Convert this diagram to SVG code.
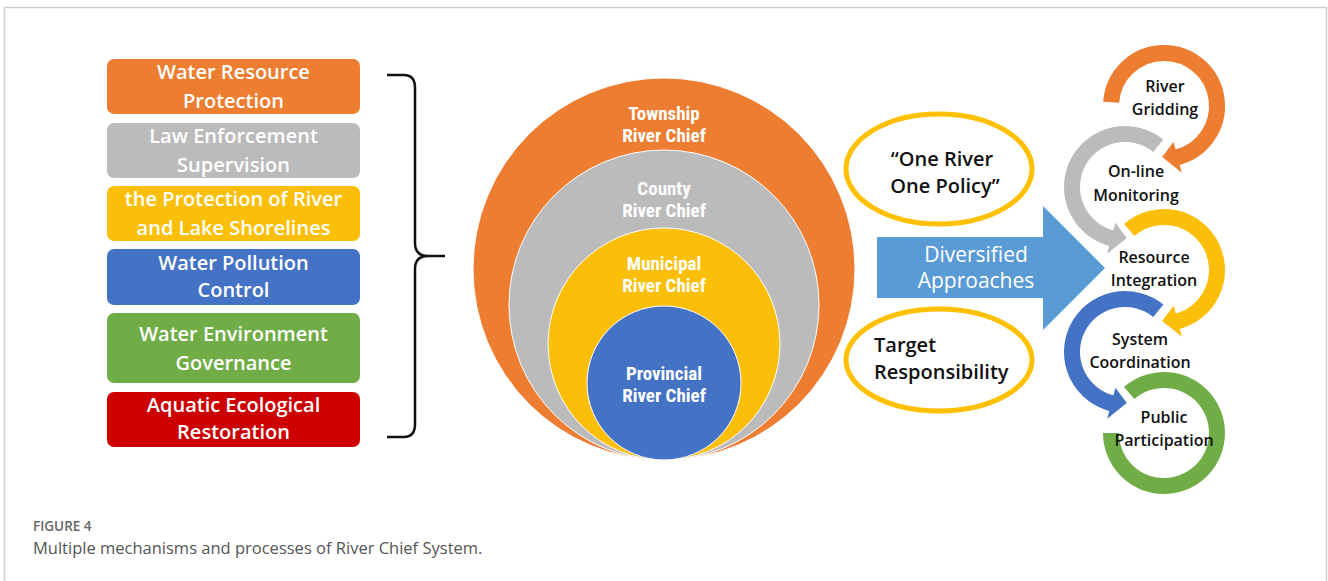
<svg xmlns="http://www.w3.org/2000/svg" xmlns:xlink="http://www.w3.org/1999/xlink" width="1328" height="581" viewBox="0 0 1328 581">
  <style>
    .box-label { font-family: "Open Sans", "Noto Sans", sans-serif; font-weight: 600; font-size: 20px; fill: #ffffff; text-anchor: middle; }
    .level { font-family: "Liberation Sans Narrow", "Roboto Condensed", "Liberation Sans", sans-serif; font-weight: 700; font-size: 19px; fill: #ffffff; text-anchor: middle; }
    .oval-label { font-family: "Open Sans", "Noto Sans", sans-serif; font-weight: 600; font-size: 20px; fill: #111111; }
    .arrow-label { font-family: "Open Sans", "Noto Sans", sans-serif; font-weight: 400; font-size: 21px; fill: #ffffff; text-anchor: middle; }
    .step { font-family: "Open Sans", "Noto Sans", sans-serif; font-weight: 600; font-size: 16px; fill: #111111; text-anchor: middle; }
    .ring { fill: none; stroke: currentColor; stroke-width: 16; }
    .head { fill: currentColor; }
    .oval { fill: #ffffff; stroke: #FFC000; stroke-width: 5; }
    .fig { font-family: "Open Sans", "Noto Sans", sans-serif; }
  </style>
  <defs>
    <!-- clockwise ring, starting on the left, arrowhead at the bottom -->
    <g id="cw-left">
      <path class="ring" d="M-52.87,-3.70 A53,53 0 1 1 11.92,51.64"/>
      <polygon class="head" points="9.58,35.74 17.86,66.65 -1.78,50.97"/>
    </g>
    <!-- clockwise ring, starting upper-left, arrowhead at the bottom -->
    <g id="cw-upper">
      <path class="ring" d="M-34.77,-40 A53,53 0 1 1 11.92,51.64"/>
      <polygon class="head" points="9.58,35.74 17.86,66.65 -1.78,50.97"/>
    </g>
    <!-- counter-clockwise ring, starting upper-right, arrowhead at the bottom -->
    <g id="ccw">
      <path class="ring" d="M33.35,-41.19 A53,53 0 1 0 -11.92,51.64"/>
      <polygon class="head" points="-9.58,35.74 -17.86,66.65 1.78,50.97"/>
    </g>
  </defs>

  <rect width="1328" height="581" fill="#ffffff"/>
  <!-- figure frame -->
  <path d="M4.5,581 L4.5,7.5 L1326.5,7.5 L1326.5,581" fill="none" stroke="#cfcfcf" stroke-width="1.5"/>

  <!-- task boxes -->
  <g id="box-water-resource">
    <rect x="107" y="59" width="253" height="55" rx="7" fill="#ED7D31"/>
    <text class="box-label" x="233.5" y="79">Water Resource</text>
    <text class="box-label" x="233.5" y="108">Protection</text>
  </g>
  <g id="box-law">
    <rect x="107" y="123" width="253" height="55" rx="7" fill="#BBBBBB"/>
    <text class="box-label" x="233.5" y="143">Law Enforcement</text>
    <text class="box-label" x="233.5" y="172">Supervision</text>
  </g>
  <g id="box-shoreline">
    <rect x="107" y="186" width="253" height="55" rx="7" fill="#FBBF0A"/>
    <text class="box-label" x="233.5" y="206">the Protection of River</text>
    <text class="box-label" x="233.5" y="235">and Lake Shorelines</text>
  </g>
  <g id="box-pollution">
    <rect x="107" y="249" width="253" height="56" rx="7" fill="#4472C4"/>
    <text class="box-label" x="233.5" y="270">Water Pollution</text>
    <text class="box-label" x="233.5" y="297">Control</text>
  </g>
  <g id="box-environment">
    <rect x="107" y="313" width="253" height="70" rx="7" fill="#70AD47"/>
    <text class="box-label" x="233.5" y="341">Water Environment</text>
    <text class="box-label" x="233.5" y="370">Governance</text>
  </g>
  <g id="box-ecology">
    <rect x="107" y="392" width="253" height="55" rx="7" fill="#CC0000"/>
    <text class="box-label" x="233.5" y="412">Aquatic Ecological</text>
    <text class="box-label" x="233.5" y="439">Restoration</text>
  </g>

  <!-- brace gathering the tasks -->
  <g id="brace">
    <path d="M387,75 L404,75 Q415,75 415,88 L415,243 Q415,256 428,256 L445,256 M428,256 Q415,256 415,269 L415,424 Q415,437 404,437 L387,437" fill="none" stroke="#111111" stroke-width="2.5"/>
  </g>

  <!-- nested river chief levels -->
  <g id="level-township">
    <circle cx="664" cy="269" r="191" fill="#ED7D31" stroke="#ffffff" stroke-width="1"/>
    <text class="level" x="664" y="120">Township</text>
    <text class="level" x="664" y="142">River Chief</text>
  </g>
  <g id="level-county">
    <circle cx="664" cy="305" r="155" fill="#BBBBBB" stroke="#ffffff" stroke-width="1"/>
    <text class="level" x="664" y="195">County</text>
    <text class="level" x="664" y="217">River Chief</text>
  </g>
  <g id="level-municipal">
    <circle cx="664" cy="344" r="116" fill="#FBBF0A" stroke="#ffffff" stroke-width="1"/>
    <text class="level" x="664" y="270">Municipal</text>
    <text class="level" x="664" y="292">River Chief</text>
  </g>
  <g id="level-provincial">
    <circle cx="664" cy="383" r="77" fill="#4472C4" stroke="#ffffff" stroke-width="1"/>
    <text class="level" x="664" y="380">Provincial</text>
    <text class="level" x="664" y="402">River Chief</text>
  </g>

  <!-- policy ovals -->
  <g id="oval-one-river">
    <ellipse class="oval" cx="939" cy="169" rx="93" ry="55"/>
    <text class="oval-label" x="942" y="166" text-anchor="middle">“One River</text>
    <text class="oval-label" x="945" y="193" text-anchor="middle">One Policy”</text>
  </g>
  <g id="oval-target">
    <ellipse class="oval" cx="939" cy="360" rx="93" ry="51"/>
    <text class="oval-label" x="874" y="352">Target</text>
    <text class="oval-label" x="874" y="379">Responsibility</text>
  </g>

  <!-- block arrow -->
  <g id="diversified-approaches">
    <polygon points="877,237 1043,237 1043,206 1105,268 1043,330 1043,298 877,298" fill="#5B9BD5"/>
    <text class="arrow-label" x="976" y="262">Diversified</text>
    <text class="arrow-label" x="976" y="288">Approaches</text>
  </g>

  <!-- process cycle -->
  <g id="connectors">
    <use xlink:href="#cw-left" transform="translate(1164,106)" color="#ED7D31"/>
    <use xlink:href="#ccw" transform="translate(1125,187)" color="#BBBBBB"/>
    <use xlink:href="#cw-upper" transform="translate(1164,270)" color="#FBBF0A"/>
    <use xlink:href="#ccw" transform="translate(1125,352)" color="#4472C4"/>
    <path class="ring" transform="translate(1164,433)" color="#70AD47" d="M-34.77,-40 A53,53 0 1 1 -53,0"/>
  </g>
  <g id="step-gridding">
    <text class="step" x="1165" y="92">River</text>
    <text class="step" x="1165" y="115">Gridding</text>
  </g>
  <g id="step-monitoring">
    <text class="step" x="1136" y="177">On-line</text>
    <text class="step" x="1136" y="201">Monitoring</text>
  </g>
  <g id="step-integration">
    <text class="step" x="1154" y="263">Resource</text>
    <text class="step" x="1154" y="286">Integration</text>
  </g>
  <g id="step-coordination">
    <text class="step" x="1140" y="345">System</text>
    <text class="step" x="1140" y="368">Coordination</text>
  </g>
  <g id="step-participation">
    <text class="step" x="1164" y="423">Public</text>
    <text class="step" x="1164" y="446">Participation</text>
  </g>

  <!-- caption -->
  <text class="fig" x="33" y="531" font-size="13.5" font-weight="600" fill="#666666">FIGURE 4</text>
  <text class="fig" x="33" y="554" font-size="16.5" font-weight="400" fill="#555555">Multiple mechanisms and processes of River Chief System.</text>
</svg>
